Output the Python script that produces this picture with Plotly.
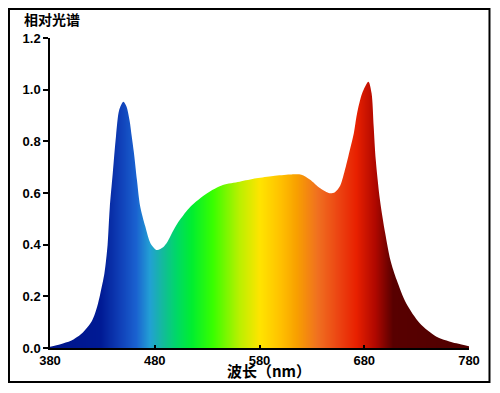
import plotly.graph_objects as go

# Spectrum data (wavelength nm, relative intensity)
wavelength = [380, 390, 400, 410, 420, 425, 428, 432, 435, 437, 440, 443, 446, 450,
              453, 456, 458, 460, 463, 466, 471, 476, 482, 488, 492, 498, 504, 514,
              530, 545, 561, 577, 593, 609, 620, 628, 638, 647, 652, 657, 661, 665,
              670, 673, 678, 684, 687, 689, 691, 695, 700, 705, 711, 720, 733, 749,
              768, 780]
intensity = [0.005, 0.015, 0.028, 0.055, 0.105, 0.16, 0.21, 0.29, 0.40, 0.54, 0.68, 0.82,
             0.92, 0.953, 0.935, 0.88, 0.82, 0.76, 0.65, 0.55, 0.47, 0.405, 0.379, 0.39,
             0.41, 0.457, 0.496, 0.547, 0.599, 0.631, 0.644, 0.657, 0.666, 0.672, 0.671,
             0.652, 0.618, 0.599, 0.603, 0.628, 0.68, 0.745, 0.83, 0.905, 0.986, 1.031, 0.986,
             0.857, 0.728, 0.573, 0.444, 0.34, 0.263, 0.173, 0.096, 0.044, 0.018, 0.007]

x_ticks = [380, 480, 580, 680, 780]
y_ticks = [0.0, 0.2, 0.4, 0.6, 0.8, 1.0, 1.2]
y_tick_labels = ["0.0", "0.2", "0.4", "0.6", "0.8", "1.0", "1.2"]

# spectral colour stops (wavelength, colour)
stop_wl = [380, 428, 447, 462, 475, 488, 500, 515, 535, 560, 580, 600, 615, 635, 655, 672, 690, 707, 780]
stop_col = ["#00158a", "#001a94", "#1040b8", "#1a62d0", "#22a0d4", "#12bc98", "#00d868",
            "#00ee30", "#38ff00", "#b8f000", "#ffe400", "#ffc000", "#f8a000", "#f07020",
            "#ec4412", "#e82000", "#b00800", "#580000", "#500000"]

wmin, wmax = 380, 780
ymax = 1.2

colorscale = [[(w - wmin) / (wmax - wmin), c] for w, c in zip(stop_wl, stop_col)]

fig = go.Figure()

# gradient background under the curve
fig.add_trace(go.Heatmap(
    x=[wmin, wmax], y=[0, ymax],
    z=[[wmin, wmax], [wmin, wmax]],
    zmin=wmin, zmax=wmax,
    colorscale=colorscale, zsmooth="best", showscale=False, hoverinfo="skip"))

# white mask above the curve
fig.add_trace(go.Scatter(x=wavelength, y=[ymax] * len(wavelength), mode="lines",
                         line=dict(width=0, color="white"), hoverinfo="skip", showlegend=False))
fig.add_trace(go.Scatter(x=wavelength, y=intensity, mode="lines",
                         line=dict(width=0, color="white", shape="spline", smoothing=0.8),
                         fill="tonexty", fillcolor="white", hoverinfo="skip", showlegend=False))

tickfont = dict(family="Liberation Sans, Arial", size=13, color="black", weight="bold")

fig.update_layout(
    width=484, height=377,
    margin=dict(l=42, r=23, t=30, b=37),
    paper_bgcolor="white", plot_bgcolor="white",
    showlegend=False,
    xaxis=dict(range=[wmin, wmax], tickvals=x_ticks, ticktext=[str(v) for v in x_ticks],
               showgrid=False, zeroline=False, showline=True, linecolor="black", linewidth=1.5,
               ticks="inside", ticklen=3, tickcolor="black", tickwidth=1.5,
               tickfont=tickfont, fixedrange=True),
    yaxis=dict(range=[0, ymax], tickvals=y_ticks, ticktext=y_tick_labels,
               showgrid=False, zeroline=False, showline=True, linecolor="black", linewidth=1.5,
               ticks="outside", ticklen=5, tickcolor="black", tickwidth=1.5,
               tickfont=tickfont, fixedrange=True),
    shapes=[dict(type="rect", xref="paper", yref="paper",
                 x0=-0.0979, x1=1.0489, y0=-0.1097, y1=1.0935,
                 line=dict(color="black", width=2), fillcolor="rgba(0,0,0,0)", layer="above")],
    annotations=[
        dict(text="<b>相对光谱</b>", xref="paper", yref="paper", x=-0.0668, y=1.061,
             xanchor="left", yanchor="middle", showarrow=False,
             font=dict(family="Noto Sans CJK SC", size=14, color="black")),
        dict(text="<b>波长（nm）</b>", xref="paper", yref="paper", x=0.5227, y=-0.074,
             xanchor="center", yanchor="middle", showarrow=False,
             font=dict(family="Noto Sans CJK SC", size=15, color="black")),
    ],
)

fig.write_html("out.html")
